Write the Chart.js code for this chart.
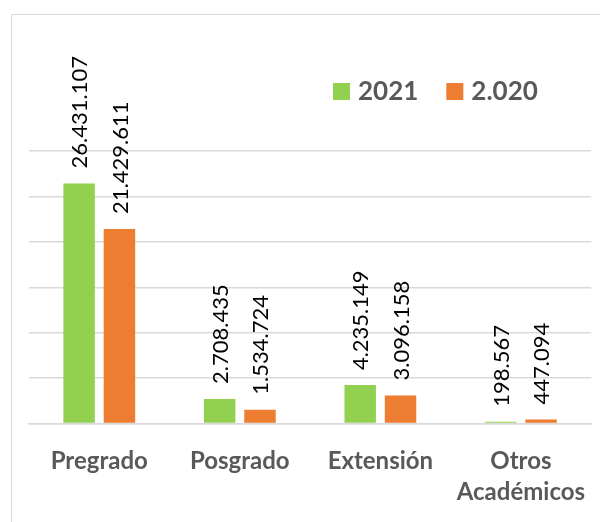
<!DOCTYPE html>
<html>
<head>
<meta charset="utf-8">
<script src="https://cdn.jsdelivr.net/npm/chart.js@4"></script>
<style>
  body { margin: 0; background: #fff; overflow: hidden; }
  #frame {
    position: absolute; left: 11px; top: 14px;
    width: 620px; height: 540px;
    border: 1px solid #d9d9d9;
  }
  canvas { display: block; }
</style>
</head>
<body>
<div id="frame"><canvas id="chart" width="588" height="507"></canvas></div>
<script>
const categories = ["Pregrado", "Posgrado", "Extensión", ["Otros", "Académicos"]];
const seriesNames = ["2021", "2.020"];
const values2021 = [26431107, 2708435, 4235149, 198567];
const values2020 = [21429611, 1534724, 3096158, 447094];
const yTicks = [0, 5000000, 10000000, 15000000, 20000000, 25000000, 30000000];

const colors = ["#92D050", "#ED7D31"];

// 26431107 -> "26.431.107"
function formatNumber(n) {
  return String(n).replace(/\B(?=(\d{3})+(?!\d))/g, ".");
}

// value labels, written upward above each bar
const barLabels = {
  id: "barLabels",
  afterDatasetsDraw(chart) {
    const ctx = chart.ctx;
    ctx.save();
    ctx.font = "22px Lato";
    ctx.fillStyle = "#000";
    ctx.textAlign = "left";
    ctx.textBaseline = "middle";
    chart.data.datasets.forEach((ds, i) => {
      chart.getDatasetMeta(i).data.forEach((bar, j) => {
        ctx.save();
        ctx.translate(bar.x, bar.y - 15);
        ctx.rotate(-Math.PI / 2);
        ctx.fillText(formatNumber(ds.data[j]), 0, 1);
        ctx.restore();
      });
    });
    ctx.restore();
  },
};

// legend sitting inside the plot, top right
const insideLegend = {
  id: "insideLegend",
  afterDraw(chart) {
    const ctx = chart.ctx;
    ctx.save();
    ctx.font = "bold 26px Lato";
    ctx.textBaseline = "middle";
    let x = 321;
    const y = 68;
    chart.data.datasets.forEach((ds) => {
      ctx.fillStyle = ds.backgroundColor;
      ctx.fillRect(x, y, 17, 17);
      ctx.fillStyle = "#595959";
      ctx.fillText(ds.label, x + 25, y + 9);
      x += 25 + ctx.measureText(ds.label).width + 28;
    });
    ctx.restore();
  },
};

new Chart(document.getElementById("chart"), {
  type: "bar",
  data: {
    labels: categories,
    datasets: [
      { label: seriesNames[0], data: values2021, backgroundColor: colors[0] },
      { label: seriesNames[1], data: values2020, backgroundColor: colors[1] },
    ],
  },
  options: {
    responsive: false,
    devicePixelRatio: 1,
    animation: false,
    categoryPercentage: 0.574,
    barPercentage: 0.78,
    layout: { padding: { left: 17, right: 7, top: 136, bottom: 0 } },
    plugins: {
      legend: { display: false },
      tooltip: { enabled: false },
    },
    scales: {
      x: {
        grid: { display: false },
        border: { color: "#d9d9d9", width: 1.5 },
        ticks: {
          color: "#595959",
          font: { family: "Lato", size: 24, weight: "bold", lineHeight: 1.3 },
          padding: 14,
          maxRotation: 0,
          autoSkip: false,
        },
      },
      y: {
        min: yTicks[0],
        max: yTicks[yTicks.length - 1],
        afterBuildTicks: (scale) => { scale.ticks = yTicks.map((v) => ({ value: v })); },
        ticks: { display: false },
        border: { display: false },
        grid: { color: "#d9d9d9", lineWidth: 1.5, drawTicks: false },
      },
    },
  },
  plugins: [barLabels, insideLegend],
});
</script>
</body>
</html>
